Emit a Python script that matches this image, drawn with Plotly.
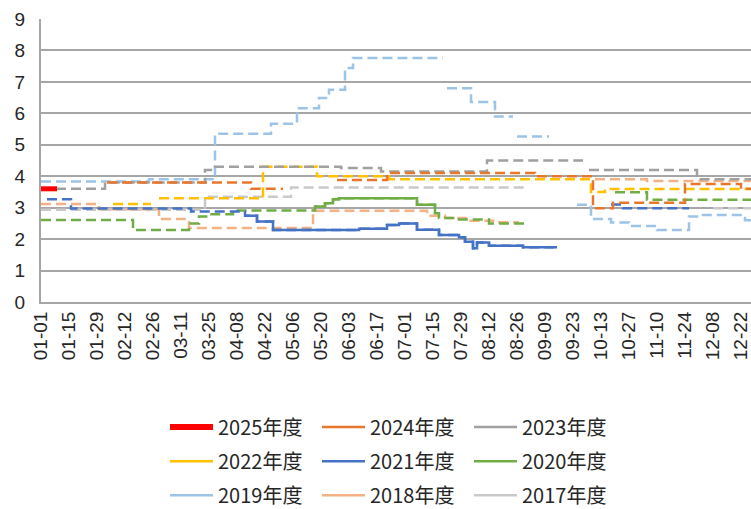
import plotly.graph_objects as go
import pandas as pd

# ---- categories: calendar days (leap year layout), 10-01..10-06 absent ----
all_days = pd.date_range("2024-01-01", "2024-12-31", freq="D").strftime("%m-%d").tolist()
holiday_gap = ["10-01", "10-02", "10-03", "10-04", "10-05", "10-06"]
categories = [d for d in all_days if d not in holiday_gap]

tick_labels = ["01-01", "01-15", "01-29", "02-12", "02-26", "03-11", "03-25", "04-08",
               "04-22", "05-06", "05-20", "06-03", "06-17", "07-01", "07-15", "07-29",
               "08-12", "08-26", "09-09", "09-23", "10-13", "10-27", "11-10", "11-24",
               "12-08", "12-22"]

# ---- series (step breakpoints; None = no data) ----
d2025 = ["01-01", "01-09"]
v2025 = [3.6, 3.6]

d2024 = ["02-03", "04-15", "05-01", "05-02", "05-28", "06-22", "09-04", "10-09", "10-19",
         "11-24", "12-22", "12-31"]
v2024 = [3.8, 3.6, 3.6, None, 3.88, 4.1, 4.0, 2.98, 3.16, 3.75, 3.6, 3.6]

d2023 = ["01-01", "02-02", "03-23", "03-28", "05-30", "06-19", "08-11", "09-28", "09-29",
         "10-07", "11-30", "12-31"]
v2023 = [3.6, 3.8, 4.2, 4.3, 4.26, 4.15, 4.5, 4.5, None, 4.2, 3.9, 3.9]

d2022 = ["02-06", "02-25", "02-26", "02-29", "04-21", "05-18", "06-23", "10-08", "10-15", "12-31"]
v2022 = [3.12, 3.12, None, 3.3, 4.3, 4.0, 3.9, 3.5, 3.59, 3.59]

d2021 = ["01-04", "01-16", "03-16", "04-12", "04-18", "04-26", "06-08", "06-22", "06-28",
         "07-07", "07-18", "07-28", "07-31", "08-04", "08-06", "08-12", "08-29", "09-15",
         "09-16", "10-18", "10-24", "11-26"]
v2021 = [3.27, 2.97, 2.88, 2.74, 2.56, 2.29, 2.33, 2.45, 2.5, 2.3, 2.13, 2.06, 1.92, 1.71,
         1.89, 1.79, 1.74, 1.74, None, 3.1, 2.98, 2.98]

d2020 = ["01-01", "02-16", "03-15", "03-20", "03-25", "04-06", "05-17", "05-22", "05-26",
         "05-29", "07-07", "07-16", "07-18", "07-27", "08-12", "08-30", "08-31", "10-20",
         "11-05", "12-31"]
v2020 = [2.61, 2.29, 2.5, 2.72, 2.79, 2.91, 3.04, 3.14, 3.27, 3.3, 3.09, 2.82, 2.67, 2.62,
         2.5, 2.5, None, 3.49, 3.25, 3.25]

d2019 = ["01-01", "02-24", "03-28", "04-25", "05-08", "05-19", "05-24", "06-01", "06-05",
         "07-20", "07-21", "07-22", "08-03", "08-15", "08-24", "08-25", "08-26", "09-11",
         "09-12", "09-25", "10-08", "10-18", "10-27", "11-10", "11-26", "12-01", "12-24",
         "12-31"]
v2019 = [3.83, 3.9, 5.35, 5.67, 6.16, 6.49, 6.75, 7.44, 7.76, 7.76, None, 6.8, 6.36, 5.9,
         5.9, None, 5.26, 5.26, None, 3.09, 2.64, 2.53, 2.42, 2.29, 2.72, 2.77, 2.6, 2.6]

d2018 = ["01-01", "01-30", "02-29", "03-15", "05-16", "07-12", "07-21", "08-02", "08-15",
         "08-27", "08-28", "10-10", "11-05", "12-31"]
v2018 = [3.12, 2.95, 2.64, 2.35, 2.9, 2.74, 2.67, 2.58, 2.54, 2.54, None, 3.9, 3.85, 3.85]

d2017 = ["01-01", "03-23", "05-05", "08-31", "09-01", "12-08", "12-31"]
v2017 = [2.93, 3.35, 3.64, 3.64, None, 2.98, 2.98]

names = ["2025年度", "2024年度", "2023年度", "2022年度", "2021年度", "2020年度",
         "2019年度", "2018年度", "2017年度"]
colors = ["#FF0000", "#E8772E", "#A0A0A0", "#FFC000", "#4472C4", "#70AD47",
          "#9DC3E6", "#F4B183", "#C9C9C9"]
dates = [d2025, d2024, d2023, d2022, d2021, d2020, d2019, d2018, d2017]
values = [v2025, v2024, v2023, v2022, v2021, v2020, v2019, v2018, v2017]
dashes = ["solid", "10px,5px", "10px,5px", "10px,5px", "10px,5px", "10px,5px",
          "10px,5px", "10px,5px", "10px,5px"]
widths = [5, 2.5, 2.5, 2.5, 2.5, 2.5, 2.5, 2.5, 2.5]
# stretches drawn as continuous lines: (series index, first breakpoint, last breakpoint)
solid_spans = [(4, 3, 17), (5, 6, 11)]

fig = go.Figure()

# data traces, drawn oldest first so 2025 is on top
for i in reversed(range(len(names))):
    fig.add_trace(go.Scatter(
        x=dates[i], y=values[i], mode="lines", name=names[i],
        line=dict(color=colors[i], width=widths[i], dash=dashes[i], shape="hv"),
        connectgaps=False, showlegend=False, hoverinfo="skip"))
    for (s, a, b) in solid_spans:
        if s == i:
            fig.add_trace(go.Scatter(
                x=dates[i][a:b + 1], y=values[i][a:b + 1], mode="lines", name=names[i],
                line=dict(color=colors[i], width=widths[i], dash="solid", shape="hv"),
                showlegend=False, hoverinfo="skip"))

# legend entries (solid line samples), 3 rows of 3
legend_ids = ["legend", "legend2", "legend3"]
for i in range(len(names)):
    fig.add_trace(go.Scatter(
        x=[None], y=[None], mode="lines", name=names[i],
        line=dict(color=colors[i], width=6 if i == 0 else 2.5),
        legend=legend_ids[i // 3], showlegend=True))

leg_common = dict(orientation="h", xanchor="left", yanchor="middle",
                  entrywidth=94, entrywidthmode="pixels", itemwidth=43,
                  bgcolor="rgba(0,0,0,0)",
                  font=dict(family="Noto Sans CJK SC", size=20, color="#262626"),
                  traceorder="normal")
x_leg = (170 - 41 - 5) / 710

fig.update_layout(
    width=751, height=509,
    margin=dict(l=41, r=0, t=19, b=207, autoexpand=False),
    paper_bgcolor="white", plot_bgcolor="white",
    legend=dict(x=x_leg, y=-0.442, **leg_common),
    legend2=dict(x=x_leg, y=-0.563, **leg_common),
    legend3=dict(x=x_leg, y=-0.683, **leg_common),
    xaxis=dict(type="category", categoryorder="array", categoryarray=categories,
               range=[0, 355], tickmode="array", tickvals=tick_labels, ticktext=tick_labels,
               tickangle=-90, showgrid=False, showline=True, linecolor="#A6A6A6",
               linewidth=2, ticks="", automargin=False,
               tickfont=dict(family="Liberation Sans", size=19, color="#262626")),
    yaxis=dict(range=[0, 9], dtick=1, tick0=0, showgrid=True, gridcolor="#A6A6A6",
               gridwidth=2, showline=True, linecolor="#A6A6A6", linewidth=2,
               zeroline=False, ticks="", ticklabelstandoff=10, automargin=False,
               tickfont=dict(family="Liberation Sans", size=19, color="#262626")),
)

fig.write_html("out.html", config={"displayModeBar": False},
               post_script="document.body.style.margin='0px';document.body.style.overflow='hidden';")
